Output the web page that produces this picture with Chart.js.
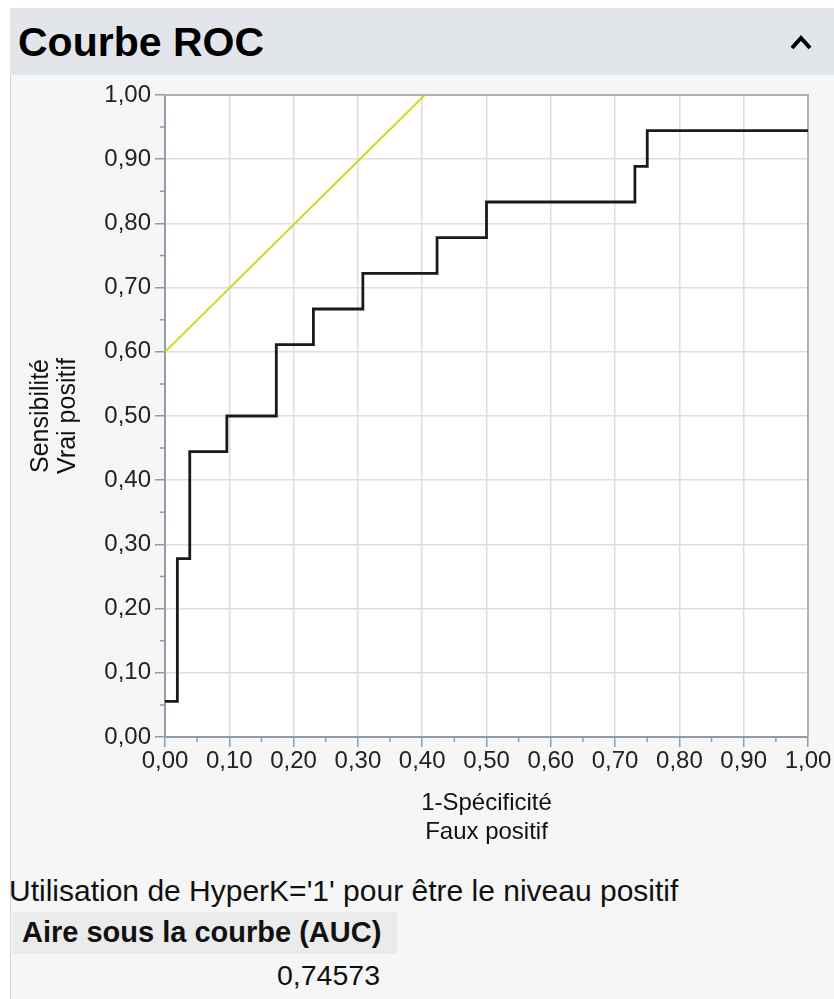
<!DOCTYPE html>
<html lang="fr">
<head>
<meta charset="utf-8">
<title>Courbe ROC</title>
<script src="https://cdn.jsdelivr.net/npm/chart.js@4.4.1/dist/chart.umd.min.js"></script>
<style>
  html, body { margin: 0; padding: 0; background: #fff; }
  body { width: 834px; height: 999px; position: relative; overflow: hidden;
         font-family: "Liberation Sans", Arial, sans-serif; color: #111; }
  #panel { position: absolute; left: 10px; top: 8px; right: 0; bottom: 0;
           background: #f6f6f6; border-left: 1px solid #d6d6d6; }
  #header { position: absolute; left: 10px; top: 8px; right: 0; height: 67px; background: #e2e6ea; }
  #header h1 { position: absolute; left: 8px; top: 14px; margin: 0; font-size: 41px;
               line-height: 41px; font-weight: bold; color: #000; }
  #caret { position: absolute; left: 778px; top: 23px; }
  #roc { position: absolute; left: 0; top: 0; }
  .note { position: absolute; left: 9px; top: 876px; font-size: 30px; line-height: 30px; white-space: nowrap; }
  .auc-head { position: absolute; left: 13px; top: 912px; width: 384px; height: 42px; background: #ebebeb; }
  .auc-head span { position: absolute; left: 9px; top: 6px; font-size: 29px; line-height: 29px;
                   font-weight: bold; white-space: nowrap; }
  .auc-val { position: absolute; left: 13px; width: 367px; top: 961px; font-size: 28.5px; line-height: 29px;
             text-align: right; }
</style>
</head>
<body>
<div id="panel"></div>
<div id="header">
  <h1>Courbe ROC</h1>
  <svg id="caret" width="26" height="22" viewBox="0 0 26 22">
    <polyline points="4,17 13,7 22,17" fill="none" stroke="#000" stroke-width="4"/>
  </svg>
</div>
<canvas id="roc" width="834" height="870"></canvas>
<div class="note">Utilisation de HyperK='1' pour être le niveau positif</div>
<div class="auc-head"><span>Aire sous la courbe (AUC)</span></div>
<div class="auc-val">0,74573</div>

<script>
// ROC curve (1-specificity, sensitivity)
const fauxPositif = [0, 0.0192, 0.0385, 0.0962, 0.1731, 0.2308, 0.3077, 0.4231, 0.5, 0.7308, 0.75, 1];
const vraiPositif = [0.0556, 0.2778, 0.4444, 0.5, 0.6111, 0.6667, 0.7222, 0.7778, 0.8333, 0.8889, 0.9444, 0.9444];

// yellow tangent line
const tangenteX = [0, 0.404];
const tangenteY = [0.6, 1.0];

const minorTicks = [0.05, 0.15, 0.25, 0.35, 0.45, 0.55, 0.65, 0.75, 0.85, 0.95];

const axisColor = '#8e9cab';
const gridColor = '#dedede';

const fmt = v => Number(v).toFixed(2).replace('.', ',');

const plotFrame = {
  id: 'plotFrame',
  beforeDraw(chart) {
    const { ctx, chartArea: a } = chart;
    ctx.save();
    ctx.fillStyle = '#ffffff';
    ctx.fillRect(a.left, a.top, a.right - a.left, a.bottom - a.top);
    ctx.restore();
  },
  beforeDatasetsDraw(chart) {
    const { ctx, chartArea: a, scales } = chart;
    ctx.save();
    // top and right frame
    ctx.strokeStyle = '#a9b0b8';
    ctx.lineWidth = 2;
    ctx.beginPath();
    ctx.moveTo(a.left, a.top);
    ctx.lineTo(a.right, a.top);
    ctx.lineTo(a.right, a.bottom);
    ctx.stroke();
    // minor ticks
    ctx.strokeStyle = axisColor;
    ctx.lineWidth = 1.5;
    ctx.beginPath();
    minorTicks.forEach(v => {
      const px = scales.x.getPixelForValue(v);
      ctx.moveTo(px, a.bottom);
      ctx.lineTo(px, a.bottom + 5);
      const py = scales.y.getPixelForValue(v);
      ctx.moveTo(a.left, py);
      ctx.lineTo(a.left - 5, py);
    });
    ctx.stroke();
    ctx.restore();
  }
};

new Chart(document.getElementById('roc'), {
  type: 'scatter',
  data: {
    datasets: [
      {
        label: 'Tangente',
        data: tangenteX.map((x, i) => ({ x: x, y: tangenteY[i] })),
        showLine: true,
        borderColor: '#d6d51a',
        borderWidth: 2,
        pointRadius: 0
      },
      {
        label: 'ROC',
        data: fauxPositif.map((x, i) => ({ x: x, y: vraiPositif[i] })),
        showLine: true,
        stepped: 'before',
        borderColor: '#1a1a1a',
        borderWidth: 2.8,
        pointRadius: 0
      }
    ]
  },
  options: {
    responsive: false,
    animation: false,
    layout: { padding: { top: 95, right: 26, left: 0, bottom: 0 } },
    plugins: { legend: { display: false }, tooltip: { enabled: false } },
    scales: {
      x: {
        type: 'linear',
        min: 0,
        max: 1,
        afterFit(scale) { scale.height = 133; },
        ticks: {
          stepSize: 0.1,
          padding: 0,
          color: '#222',
          font: { family: '"Liberation Sans", Arial, sans-serif', size: 24 },
          callback: fmt,
          maxRotation: 0,
          autoSkip: false
        },
        grid: { color: gridColor, lineWidth: 1.5, tickColor: axisColor, tickLength: 10, tickWidth: 1.5 },
        border: { color: axisColor, width: 2 },
        title: {
          display: true,
          text: ['1-Spécificité', 'Faux positif'],
          color: '#111',
          font: { family: '"Liberation Sans", Arial, sans-serif', size: 24, lineHeight: 1.2 },
          padding: { top: 0, bottom: 23 }
        }
      },
      y: {
        type: 'linear',
        min: 0,
        max: 1,
        afterFit(scale) { scale.width = 165; },
        ticks: {
          stepSize: 0.1,
          padding: 4,
          color: '#222',
          font: { family: '"Liberation Sans", Arial, sans-serif', size: 24 },
          callback: fmt
        },
        grid: { color: gridColor, lineWidth: 1.5, tickColor: axisColor, tickLength: 10, tickWidth: 1.5 },
        border: { color: axisColor, width: 2 },
        title: {
          display: true,
          text: ['Sensibilité', 'Vrai positif'],
          color: '#111',
          font: { family: '"Liberation Sans", Arial, sans-serif', size: 25, lineHeight: 1.1 },
          padding: { top: 27, bottom: 0 }
        }
      }
    }
  },
  plugins: [plotFrame]
});
</script>
</body>
</html>
